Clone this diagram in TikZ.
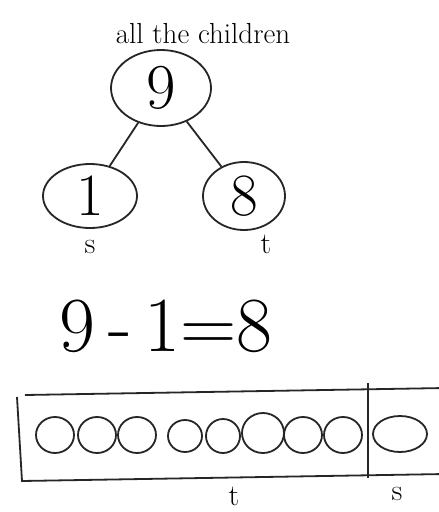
\documentclass[tikz,border=0pt]{standalone}
\usetikzlibrary{shapes.geometric}
\begin{document}
\begin{tikzpicture}[x=1pt,y=-1pt,
  ink/.style={draw=black!85,line width=1.8pt},
  bubble/.style={ink,ellipse,inner sep=0pt},
  dot/.style={ink,ellipse,inner sep=0pt,minimum width=38pt,minimum height=36pt},
  lbl/.style={inner sep=0pt,font=\fontsize{30}{32}\selectfont}
]
\useasboundingbox[fill=white] (0,0) rectangle (439,512);
\clip (0,0) rectangle (439,512);
% caption
\node[lbl,font=\fontsize{29}{30}\selectfont] (cap) at (203,34) {all the children};
% tree
\node[bubble,minimum width=100pt,minimum height=76pt,font=\fontsize{64}{64}\selectfont] (top) at (161,88) {9};
\node[bubble,minimum width=94pt,minimum height=64pt,font=\fontsize{60}{60}\selectfont] (left) at (90,196) {1};
\node[bubble,minimum width=82pt,minimum height=68pt,font=\fontsize{60}{60}\selectfont] (right) at (244,196) {8};
\draw[ink] (top) -- (left);
\draw[ink] (top) -- (right);
\node[lbl] (ls) at (90,247) {s};
\node[lbl] (rt) at (266,244) {t};
% equation
\node[inner sep=0pt,font=\fontsize{78}{78}\selectfont] (eq) at (166,326) {9\,-\,1=8};
% bar
\coordinate (bl) at (17,397);
\coordinate (tl) at (25,395);
\coordinate (tr) at (445,388);
\coordinate (bbl) at (22,481);
\coordinate (bbr) at (445,474);
\draw[ink] (tl) -- (tr);
\draw[ink] (bl) -- (bbl) -- (bbr);
\coordinate (dtop) at (368,383);
\coordinate (dbot) at (368,478);
\draw[ink] (dtop) -- (dbot);
\node[dot] (c1) at (55,435) {};
\node[dot] (c2) at (97,435) {};
\node[dot] (c3) at (137,435) {};
\node[dot,minimum width=34pt,minimum height=32pt] (c4) at (185,436) {};
\node[dot,minimum width=34pt,minimum height=34pt] (c5) at (223,436) {};
\node[dot,minimum width=42pt,minimum height=40pt] (c6) at (263,433) {};
\node[dot] (c7) at (303,435) {};
\node[dot] (c8) at (343,435) {};
\node[dot,minimum width=54pt,minimum height=36pt] (c9) at (400,434) {};
\node[lbl] (bt) at (234,496) {t};
\node[lbl] (bs) at (397,494) {s};
\end{tikzpicture}
\end{document}
